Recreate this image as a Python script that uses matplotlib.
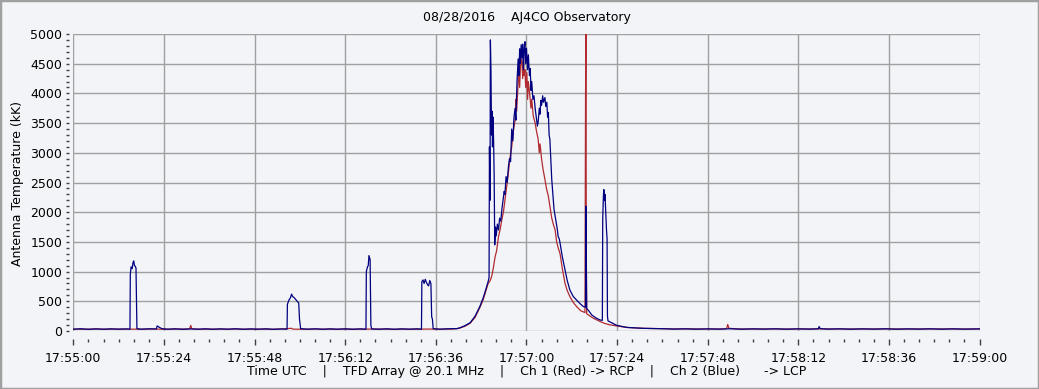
import matplotlib
matplotlib.use("Agg")
import matplotlib.pyplot as plt
from matplotlib.ticker import MultipleLocator, FixedLocator, FixedFormatter
from matplotlib.patches import Rectangle

# ---------------- data (seconds after 17:55:00, antenna temperature kK) -------------
red_samples = [
    (0, 32), (3, 30), (6, 34), (9, 30), (12, 33), (15, 31), (18, 30), (21, 33), (24, 30), (27, 32),
    (30.8, 34), (31.1, 95), (31.4, 35), (34, 30), (37, 32), (40, 31), (43, 33), (46, 30), (49, 32),
    (52, 30), (55, 33), (57.8, 45), (58.2, 31), (61, 30), (64, 33), (67, 31), (70, 30), (73, 32),
    (76, 30), (79, 33), (82, 31), (85, 30), (88, 32), (91, 30), (94, 33), (97, 31), (100, 33),
    (101.6, 40), (102.4, 50), (103.7, 80), (105.1, 130), (106.4, 230), (107.7, 400), (108.5, 520),
    (109.0, 620), (109.8, 790), (110.4, 850), (110.8, 920), (111.2, 1050), (111.7, 1250),
    (112.1, 1350), (112.6, 1590), (113.0, 1700), (113.5, 1880), (113.9, 2000), (114.3, 2200),
    (114.8, 2450), (115.2, 2650), (115.6, 2900), (116.1, 3100), (116.5, 3350), (117.0, 3550),
    (117.2, 3900), (117.4, 3700), (117.8, 4180), (118.0, 4500), (118.2, 4100), (118.5, 4600),
    (118.8, 4520), (119.0, 4250), (119.2, 4650), (119.4, 4300), (119.6, 4400), (119.8, 4100),
    (120.1, 4350), (120.3, 3900), (120.5, 4200), (120.9, 3960), (121.2, 3750), (121.4, 3900),
    (121.8, 3620), (122.3, 3500), (122.7, 3350), (123.1, 3230), (123.4, 3000), (123.6, 3150),
    (124.0, 2900), (124.4, 2720), (124.9, 2550), (125.3, 2400), (125.8, 2270), (126.2, 2100),
    (126.7, 1900), (127.1, 1800), (127.6, 1700), (128.0, 1500), (128.4, 1400), (128.9, 1300),
    (129.5, 1050), (130.2, 805), (130.8, 680), (131.5, 580), (132.4, 480), (133.3, 410),
    (134.4, 340), (135.5, 310), (135.65, 3950), (135.75, 5300), (135.85, 1200), (135.95, 290),
    (137.7, 215), (139.5, 160), (140.6, 130), (142.0, 105), (143.9, 85), (146.6, 60),
    (150.9, 45), (156.2, 38), (160, 34), (164, 36), (168, 33), (172, 35), (173.0, 40),
    (173.3, 110), (173.6, 45), (176, 35), (180, 33), (184, 36), (188, 33), (192, 35), (196, 34),
    (200, 36), (204, 33), (208, 35), (212, 34), (216, 36), (220, 33), (224, 35), (228, 34),
    (232, 36), (236, 33), (240, 35),
]

blue_samples = [
    (0, 30), (2, 38), (4, 28), (6, 36), (8, 29), (10, 37), (12, 30), (14, 35), (15.0, 30),
    (15.1, 950), (15.3, 1080), (15.6, 1050), (15.8, 1150), (16.0, 1180), (16.2, 1100),
    (16.4, 1090), (16.6, 1060), (16.75, 400), (16.85, 40), (18, 30), (20, 37),
    (22.0, 35), (22.2, 85), (22.6, 70), (23.0, 55), (23.4, 40), (25, 30), (27, 37), (29, 28),
    (31, 36), (33, 30), (35, 37), (37, 29), (39, 36), (41, 30), (43, 38), (45, 29), (47, 36),
    (49, 30), (51, 37), (53, 28), (55, 35), (56.6, 30),
    (56.7, 450), (57.1, 520), (57.5, 560), (57.8, 620), (58.1, 580), (58.5, 560), (58.9, 530),
    (59.3, 500), (59.7, 470), (59.9, 200), (60.2, 40), (62, 30), (64, 37), (66, 29), (68, 36),
    (70, 30), (72, 37), (74, 29), (76, 36), (77.5, 30),
    (77.6, 1000), (77.9, 1080), (78.1, 1100), (78.3, 1270), (78.6, 1200), (78.8, 100),
    (79.0, 35), (81, 30), (83, 37), (85, 29), (87, 36), (89, 30), (91, 37), (92.2, 30),
    (92.3, 830), (92.6, 860), (92.9, 800), (93.2, 870), (93.5, 820), (93.8, 780), (94.1, 760),
    (94.4, 850), (94.7, 800), (94.9, 240), (95.1, 200), (95.3, 40), (97, 30), (99, 37),
    (101.6, 40), (102.4, 55), (103.7, 90), (105.1, 140), (106.4, 250), (107.7, 420),
    (108.5, 550), (109.0, 650), (109.8, 820), (110.1, 900), (110.2, 3100), (110.35, 2200),
    (110.45, 4900), (110.6, 4400), (110.75, 3300), (110.9, 3700), (111.0, 3100), (111.15, 3600),
    (111.3, 3200), (111.45, 2600), (111.6, 1450), (111.8, 1750), (112.0, 1600), (112.3, 1800),
    (112.6, 1700), (112.9, 1900), (113.2, 1850), (113.5, 2050), (113.8, 2200), (114.1, 2350),
    (114.3, 2300), (114.6, 2600), (114.9, 2500), (115.2, 2750), (115.5, 2900), (115.8, 2850),
    (116.1, 3400), (116.4, 3200), (116.7, 3600), (117.0, 3750), (117.2, 3550), (117.5, 4200),
    (117.8, 4580), (118.0, 4300), (118.2, 4750), (118.4, 4500), (118.6, 4820), (118.8, 4600),
    (119.0, 4830), (119.2, 4400), (119.4, 4750), (119.6, 4870), (119.8, 4500), (120.0, 4760),
    (120.3, 4400), (120.5, 4650), (120.8, 4300), (121.0, 4420), (121.2, 4050), (121.4, 4200),
    (121.7, 3900), (122.0, 3960), (122.3, 3750), (122.6, 3600), (122.9, 3450), (123.1, 3520),
    (123.4, 3750), (123.6, 3650), (123.8, 3880), (124.0, 3800), (124.3, 3960), (124.5, 3850),
    (124.9, 3930), (125.1, 3780), (125.4, 3850), (125.6, 3600), (125.8, 3680), (126.0, 3300),
    (126.2, 3230), (126.5, 2800), (126.7, 2550), (127.0, 2300), (127.3, 2050), (127.6, 1930),
    (127.9, 1800), (128.2, 1700), (128.4, 1590), (128.7, 1550), (128.9, 1480), (129.5, 1250),
    (130.2, 1030), (130.8, 850), (131.5, 690), (132.4, 580), (133.3, 520), (134.2, 460),
    (135.1, 410), (135.65, 400), (135.75, 2100), (135.85, 1200), (135.95, 380), (136.5, 340),
    (137.3, 270), (138.4, 220), (139.5, 185), (140.1, 180), (140.2, 1900), (140.4, 2300),
    (140.5, 2380), (140.7, 2200), (140.8, 2300), (141.0, 2000), (141.2, 1700), (141.35, 1550),
    (141.45, 250), (141.6, 170), (143.9, 95), (146.6, 60), (150.9, 45), (156.2, 38),
    (159, 32), (162, 37), (165, 30), (168, 36), (171, 31), (174, 38), (177, 30), (180, 36),
    (183, 31), (186, 37), (189, 30), (192, 36), (195, 31), (197.3, 38), (197.5, 75),
    (197.8, 40), (200, 31), (203, 37), (206, 30), (209, 36), (212, 31), (215, 37), (218, 30),
    (221, 36), (224, 31), (227, 37), (230, 30), (233, 36), (236, 31), (240, 36),
]

red_t = [p[0] for p in red_samples]
red_v = [p[1] for p in red_samples]
blue_t = [p[0] for p in blue_samples]
blue_v = [p[1] for p in blue_samples]

x_tick_seconds = [0, 24, 48, 72, 96, 120, 144, 168, 192, 216, 240]
x_tick_labels = ["17:55:00", "17:55:24", "17:55:48", "17:56:12", "17:56:36", "17:57:00",
                 "17:57:24", "17:57:48", "17:58:12", "17:58:36", "17:59:00"]

title_text = "08/28/2016    AJ4CO Observatory"
ylabel_text = "Antenna Temperature (kK)"
xlabel_text = "Time UTC    |    TFD Array @ 20.1 MHz    |    Ch 1 (Red) -> RCP    |    Ch 2 (Blue)      -> LCP"

# ---------------- plot ---------------------------------------------------------
BG = "#F3F4F8"
GRID = "#A0A0A0"
FS = 9

plt.rcParams["font.family"] = ["DejaVu Sans"]

fig = plt.figure(figsize=(10.39, 3.89), dpi=100, facecolor=BG)
W, H = 1039, 389
x0, x1, y0, y1 = 73.3, 979.6, 34, 331
ax = fig.add_axes([x0 / W, 1 - y1 / H, (x1 - x0) / W, (y1 - y0) / H])
ax.set_facecolor(BG)

ax.plot(red_t, red_v, color="#B02A30", lw=0.9, zorder=3)
ax.plot(blue_t, blue_v, color="#000080", lw=0.9, zorder=4)

ax.set_xlim(0, 240)
ax.set_ylim(0, 5000)

ax.xaxis.set_major_locator(FixedLocator(x_tick_seconds))
ax.xaxis.set_major_formatter(FixedFormatter(x_tick_labels))
ax.xaxis.set_minor_locator(MultipleLocator(4))
ax.yaxis.set_major_locator(MultipleLocator(500))
ax.yaxis.set_minor_locator(MultipleLocator(100))

for s in ax.spines.values():
    s.set_visible(False)
ax.spines["bottom"].set_position(("outward", 8 * 0.72))
ax.spines["left"].set_position(("outward", 4 * 0.72))

ax.tick_params(axis="x", which="major", length=4, width=1, color="#404040",
               labelsize=FS, pad=5.5, direction="out")
ax.tick_params(axis="x", which="minor", length=2, width=1, color="#404040", direction="out")
ax.tick_params(axis="y", which="major", length=2, width=1, color="#404040",
               labelsize=FS, pad=3, direction="out")
ax.tick_params(axis="y", which="minor", length=2, width=1, color="#404040", direction="out")

ax.grid(True, which="major", color=GRID, lw=1)
ax.set_axisbelow(True)

fig.text((x0 + x1) / 2 / W, 1 - 18 / H, title_text, ha="center", va="center", fontsize=FS)
fig.text(18 / W, 1 - 183 / H, ylabel_text, ha="center", va="center", rotation=90, fontsize=FS)
fig.text(527 / W, 1 - 372 / H, xlabel_text, ha="center", va="center", fontsize=FS)

fig.patches.append(Rectangle((0, 0), 1, 1, transform=fig.transFigure, fill=False,
                             edgecolor="#A0A0A0", lw=2.5))

fig.savefig("out.png", dpi=100, facecolor=BG)
